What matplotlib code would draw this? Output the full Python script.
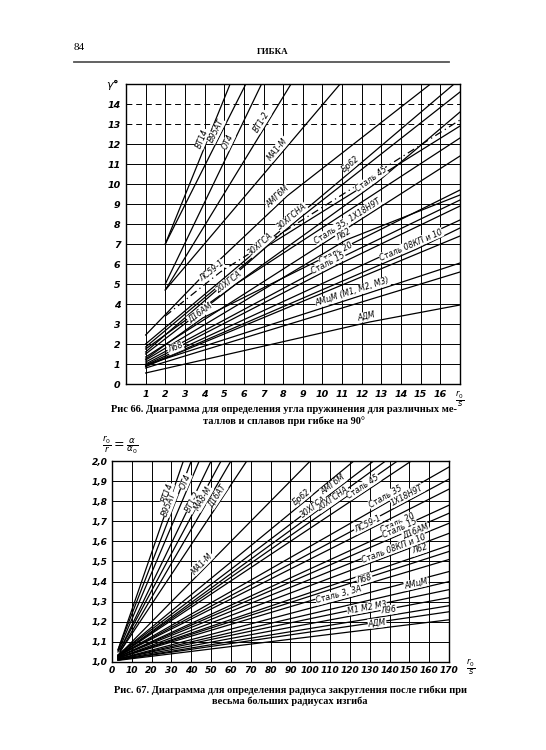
import numpy as np
import matplotlib
matplotlib.use("Agg")
import matplotlib.pyplot as plt

W, H = 546, 750

# ---- Рис. 66: angle of springback vs r0/s ----
top_names = ["ВТ14", "В95АТ", "ОТ4", "ВТ1-2", "МА1-М",
             "АМГ6М", "ЛС59-1", "Бр62", "30ХГСНА", "Сталь 45", "30ХГСА",
             "20ХГСА", "Сталь 35, 1Х18Н9Т", "Д16АМ", "Л62", "Сталь 20",
             "Сталь 15", "", "Сталь 08КП и 10", "Л68", "АМцМ (М1, М2, М3)", "", "АДМ"]
top_x = [[2, 5.3], [2, 6.1], [2, 6.9], [2, 8.4], [2, 10.9],
         [1, 4, 8.2, 15.5], [2, 4.8, 17], [1, 11.9, 16.7], [1, 8.85, 17], [1, 12.8, 17], [1, 7.2, 17],
         [1, 5.6, 17], [1, 11.75, 17], [1, 3.9, 17], [1, 11.2, 17], [1, 10.9, 17],
         [1, 10.55, 17], [1, 17], [1, 14.8, 17], [1, 17], [1, 12.05, 17], [1, 17], [1, 12.4, 17]]
top_y = [[7.0, 15], [7.0, 15], [5.0, 15], [4.7, 15], [4.7, 15],
         [2.45, 5.5, 9.4, 15], [3.4, 5.6, 13.2], [2.0, 11.0, 15], [1.85, 8.3, 14.6], [1.75, 10.1, 13.6], [1.6, 6.9, 12.9],
         [1.5, 5.0, 12.3], [1.35, 8.1, 11.4], [1.25, 3.3, 9.7], [1.2, 7.2, 9.45], [1.1, 6.3, 9.2],
         [1.0, 5.85, 8.9], [0.95, 8.2], [0.9, 6.75, 7.8], [0.87, 7.4], [0.95, 4.45, 6.05], [0.8, 5.6], [0.55, 3.1, 3.95]]
top_dashdot = ["ЛС59-1"]

# ---- Рис. 67: r0/r vs r0/s ----
bot_names = ["ВТ14", "В95АТ", "ОТ4", "ВТ1-2", "", "МА8-М", "Д16АТ", "МА1-М",
             "Бр62", "АМГ6М", "30ХГСА", "20ХГСНА", "Сталь 45", "Сталь 35", "1Х18Н9Т",
             "ЛС59-1", "Сталь 20", "Сталь 15", "Д16АМ", "Сталь 08КП и 10", "Л62", "",
             "Л68", "Сталь 3, 3А", "АМцМ", "", "М1 М2 М3", "Л96", "", "АДМ"]
bot_x = [[3, 36], [3, 40], [3, 44], [4, 55], [4, 50], [4, 60], [4, 68], [4, 100],
         [3, 122], [3, 132], [3, 138], [3, 144], [3, 151], [3, 170], [3, 170],
         [3, 170], [3, 170], [3, 170], [3, 170], [3, 170], [3, 170], [3, 170],
         [3, 170], [3, 170], [3, 170], [3, 170], [3, 170], [3, 170], [3, 170], [3, 170]]
bot_y = [[1.06, 2.0], [1.06, 2.0], [1.05, 2.0], [1.06, 2.0], [1.06, 2.0], [1.05, 2.0], [1.05, 2.0], [1.04, 2.0],
         [1.035, 2.0], [1.035, 2.0], [1.03, 2.0], [1.03, 2.0], [1.03, 2.0], [1.03, 1.97], [1.03, 1.91],
         [1.03, 1.86], [1.025, 1.78], [1.025, 1.74], [1.025, 1.69], [1.02, 1.64], [1.02, 1.58], [1.02, 1.55],
         [1.02, 1.51], [1.015, 1.45], [1.015, 1.40], [1.015, 1.36], [1.012, 1.32], [1.01, 1.28], [1.01, 1.25], [1.008, 1.21]]

# layout: x position of each curve label along its line
top_lab_x = [4.1, 4.8, 5.4, 7.1, 7.9, 7.9, 4.5, 11.6, 8.6, 12.6, 7.0,
             5.4, 11.4, 3.9, 11.2, 10.8, 10.4, None, 14.6, 2.6, 11.6, None, 12.3]
bot_lab_x = [30, 31, 39, 43, None, 48, 55, 47,
             97, 113, 103, 113, 128, 139, 150,
             130, 145, 146, 154, 143, 156, None,
             128, 115, 154, None, 129, 140, None, 134]

LBL = dict(fontsize=5.6, style="italic", family="DejaVu Sans")
CAP = dict(fontsize=7.5, family="Liberation Serif", weight="bold", ha="center", va="center")


def px_axes(l, t, r, b):
    return [l / W, 1 - b / H, (r - l) / W, (b - t) / H]


def label_line(ax, xs, ys, name, lx, dy=0.0):
    if not name or lx is None:
        return
    y = np.interp(lx, xs, ys)
    i = min(np.searchsorted(xs, lx), len(xs) - 1)
    i = max(i, 1)
    ang = np.degrees(np.arctan2(ys[i] - ys[i - 1], xs[i] - xs[i - 1]))
    ax.text(lx, y + dy, name, rotation=ang, transform_rotates_text=True,
            rotation_mode="anchor", ha="center", va="bottom", color="black",
            bbox=dict(boxstyle="square,pad=0.05", fc="white", ec="none"),
            zorder=4, **LBL)


fig = plt.figure(figsize=(W / 100, H / 100), dpi=100)
fig.patch.set_facecolor("white")

# page header
fig.text(79 / W, 1 - 48 / H, "84", fontsize=8, family="Liberation Serif", ha="center", va="center")
fig.text(273 / W, 1 - 52 / H, "ГИБКА", fontsize=6.5, family="Liberation Serif",
         weight="bold", ha="center", va="center")
fig.add_artist(plt.Line2D([74 / W, 449 / W], [1 - 62 / H, 1 - 62 / H], color="#555555", lw=1.3))

# ---------------- top chart ----------------
ax1 = fig.add_axes(px_axes(126, 84, 460, 384))
ax1.set_xlim(0, 17)
ax1.set_ylim(0, 15)
for v in range(1, 17):
    ax1.axvline(v, color="black", lw=0.7, zorder=1)
for v in range(1, 15):
    ls = (0, (6, 4)) if v in (13, 14) else "-"
    ax1.axhline(v, color="black", lw=0.7, ls=ls, zorder=1)
for name, xs, ys in zip(top_names, top_x, top_y):
    ls = (0, (6, 3, 1, 3)) if name in top_dashdot else "-"
    ax1.plot(xs, ys, color="black", lw=0.9, ls=ls, zorder=2)
for name, xs, ys, lx in zip(top_names, top_x, top_y, top_lab_x):
    label_line(ax1, xs, ys, name, lx, dy=0.08)
ax1.set_xticks(range(1, 17))
ax1.set_xticklabels([str(v) for v in range(1, 17)])
ax1.set_yticks(range(0, 15))
ax1.set_yticklabels([str(v) for v in range(0, 15)])
ax1.tick_params(length=0, labelsize=6.8, pad=4)
for t in ax1.get_xticklabels() + ax1.get_yticklabels():
    t.set_style("italic")
    t.set_weight("bold")
for s in ax1.spines.values():
    s.set_linewidth(1.0)
ax1.text(-0.7, 15, r"$\gamma$°", fontsize=8, ha="center", va="center", weight="bold")
ax1.text(17.0, -0.75, r"$\frac{r_0}{s}$", fontsize=8.5, ha="center", va="center", clip_on=False)

fig.text(284 / W, 1 - 409 / H,
         "Рис 66. Диаграмма для определения угла пружинения для различных ме-", **CAP)
fig.text(284 / W, 1 - 421 / H, "таллов и сплавов при гибке на 90°", **CAP)

# ---------------- bottom chart ----------------
ax2 = fig.add_axes(px_axes(112, 461, 449, 662))
ax2.set_xlim(0, 170)
ax2.set_ylim(1.0, 2.0)
for v in range(10, 170, 10):
    ax2.axvline(v, color="black", lw=0.7, zorder=1)
for v in np.arange(1.1, 2.0, 0.1):
    ax2.axhline(v, color="black", lw=0.7, zorder=1)
for name, xs, ys in zip(bot_names, bot_x, bot_y):
    ax2.plot(xs, ys, color="black", lw=0.9, zorder=2)
for name, xs, ys, lx in zip(bot_names, bot_x, bot_y, bot_lab_x):
    label_line(ax2, xs, ys, name, lx, dy=0.005)
ax2.set_xticks(range(0, 171, 10))
ax2.set_xticklabels([str(v) for v in range(0, 171, 10)])
yt = np.round(np.arange(1.0, 2.01, 0.1), 1)
ax2.set_yticks(yt)
ax2.set_yticklabels([f"{v:.1f}".replace(".", ",") for v in yt])
ax2.tick_params(length=0, labelsize=6.5, pad=3)
for t in ax2.get_xticklabels() + ax2.get_yticklabels():
    t.set_style("italic")
    t.set_weight("bold")
for s in ax2.spines.values():
    s.set_linewidth(1.0)
ax2.text(181, 0.975, r"$\frac{r_0}{s}$", fontsize=8.5, ha="center", va="center", clip_on=False)
fig.text(102 / W, 1 - 445 / H, r"$\frac{r_0}{r}=\frac{\alpha}{\alpha_0}$", fontsize=9,
         ha="left", va="center")

fig.text(290 / W, 1 - 690 / H,
         "Рис. 67. Диаграмма для определения радиуса закругления после гибки при", **CAP)
fig.text(290 / W, 1 - 701 / H, "весьма больших радиусах изгиба", **CAP)

fig.savefig("out.png", dpi=100, facecolor="white")
